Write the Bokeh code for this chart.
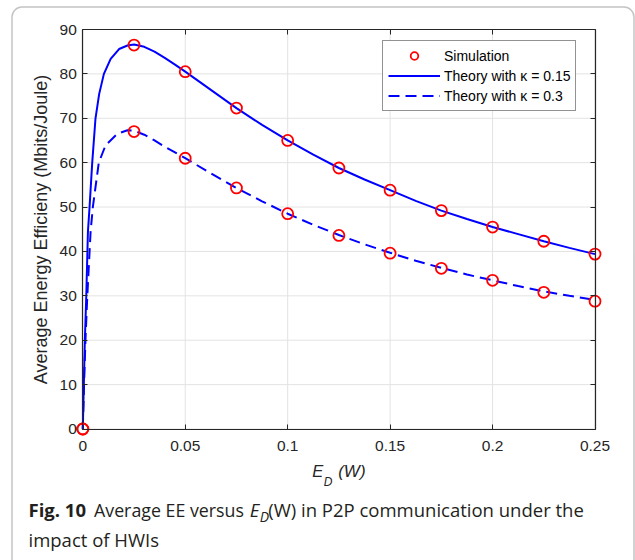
from bokeh.plotting import figure
from bokeh.models import (Range1d, FixedTicker, LinearAxis, CustomJSTickFormatter,
                          Label, BoxAnnotation, Legend, LegendItem)
from bokeh.embed import file_html
from bokeh.resources import INLINE

# ---------------- data ----------------
sim_x = [0, 0.025, 0.05, 0.075, 0.1, 0.125, 0.15, 0.175, 0.2, 0.225, 0.25]
sim_k015 = [0, 86.5, 80.5, 72.3, 65.0, 58.8, 53.8, 49.2, 45.5, 42.3, 39.4]
sim_k03 = [0, 67.0, 61.0, 54.3, 48.5, 43.6, 39.6, 36.2, 33.5, 30.8, 28.8]

th_x_k015 = [0, 0.0005, 0.001, 0.0017, 0.0025, 0.0033, 0.0046, 0.0062, 0.008, 0.0103,
             0.0136, 0.0177, 0.0218, 0.025, 0.03, 0.035, 0.04, 0.045, 0.05, 0.0625,
             0.075, 0.0875, 0.1, 0.1125, 0.125, 0.1375, 0.15, 0.1625, 0.175, 0.1875,
             0.2, 0.2125, 0.225, 0.2375, 0.25]
th_k015 = [0, 10, 20, 30, 44.4, 50, 60, 70, 75.5, 80,
           83.4, 85.6, 86.4, 86.6, 86.1, 85.0, 83.6, 82.1, 80.5, 76.4,
           72.3, 68.5, 65.0, 61.8, 58.8, 56.2, 53.8, 51.4, 49.2, 47.3,
           45.5, 43.9, 42.3, 40.8, 39.4]

th_x_k03 = [0, 0.0006, 0.0013, 0.0022, 0.0038, 0.0049, 0.0078, 0.0111, 0.0168, 0.0218,
            0.025, 0.03, 0.035, 0.04, 0.045, 0.05, 0.0625, 0.075, 0.0875, 0.1,
            0.1125, 0.125, 0.1375, 0.15, 0.1625, 0.175, 0.1875, 0.2, 0.2125, 0.225,
            0.2375, 0.25]
th_k03 = [0, 10, 20, 30, 44.4, 50, 60, 63.9, 66.5, 67.3,
          67.2, 66.3, 65.0, 63.6, 62.3, 61.0, 57.6, 54.3, 51.3, 48.5,
          46.0, 43.7, 41.6, 39.7, 37.9, 36.3, 34.8, 33.5, 32.2, 31.0,
          30.0, 29.1]

x_ticks = [0, 0.05, 0.1, 0.15, 0.2, 0.25]
x_tick_labels = ["0", "0.05", "0.1", "0.15", "0.2", "0.25"]
y_ticks = [0, 10, 20, 30, 40, 50, 60, 70, 80, 90]

legend_labels = ["Simulation", "Theory with \u03ba = 0.15", "Theory with \u03ba = 0.3"]
y_label = "Average Energy Efficieny (Mbits/Joule)"

# ---------------- layout helpers ----------------
W, H = 635, 560
# pixel position of the axes box inside the page
FL, FR, FT, FB = 82.3, 594.5, 29.0, 428.5
X0, X1, Y0, Y1 = 0.0, 0.25, 0.0, 90.0


def dx(px):
    return X0 + (px - FL) / (FR - FL) * (X1 - X0)


def dy(py):
    return Y0 + (FB - py) / (FB - FT) * (Y1 - Y0)


AX = "#262626"
FONT = "Liberation Sans"
CAP_FONT = "Open Sans"

# the frame covers the whole page; the axes are pinned at the box edges
p = figure(width=W, height=H, output_backend="svg", toolbar_location=None,
           x_range=Range1d(dx(0), dx(W)), y_range=Range1d(dy(H), dy(0)),
           min_border=0, min_border_left=0, min_border_right=0,
           min_border_top=0, min_border_bottom=0)
p.background_fill_color = "white"
p.border_fill_color = "white"
p.outline_line_color = None
p.xgrid.visible = False
p.ygrid.visible = False

xa, ya = p.xaxis[0], p.yaxis[0]
xa.fixed_location = Y0
xa.bounds = (X0, X1)
ya.fixed_location = X0
ya.bounds = (Y0, Y1)
for ax in (xa, ya):
    ax.axis_line_color = AX
    ax.axis_line_width = 1.2
    ax.major_tick_line_color = AX
    ax.major_tick_in = 5
    ax.major_tick_out = 0
    ax.minor_tick_line_color = None
    ax.major_label_text_color = AX
    ax.major_label_text_font = FONT
    ax.major_label_text_font_size = "15.5px"

xa.ticker = FixedTicker(ticks=x_ticks)
xa.major_label_overrides = dict(zip(x_ticks, x_tick_labels))
xa.major_label_standoff = 12
ya.ticker = FixedTicker(ticks=y_ticks)
ya.major_label_standoff = 6
ya.axis_label = y_label
ya.axis_label_text_font = FONT
ya.axis_label_text_font_style = "normal"
ya.axis_label_text_font_size = "18px"
ya.axis_label_text_color = AX
ya.axis_label_standoff = 5

blank = CustomJSTickFormatter(code="return ''")
top = LinearAxis(ticker=FixedTicker(ticks=x_ticks), formatter=blank,
                 fixed_location=Y1, bounds=(X0, X1),
                 major_tick_in=5, major_tick_out=0, minor_tick_line_color=None,
                 axis_line_color=AX, axis_line_width=1.2, major_tick_line_color=AX)
right = LinearAxis(ticker=FixedTicker(ticks=y_ticks), formatter=blank,
                   fixed_location=X1, bounds=(Y0, Y1),
                   major_tick_in=5, major_tick_out=0, minor_tick_line_color=None,
                   axis_line_color=AX, axis_line_width=1.2, major_tick_line_color=AX)
p.add_layout(top, "above")
p.add_layout(right, "right")

# grid lines inside the axes box, one per tick
GRID = "#e3e3e3"
p.segment(x0=x_ticks, y0=[Y0] * len(x_ticks), x1=x_ticks, y1=[Y1] * len(x_ticks),
          line_color=GRID, line_width=1, level="underlay")
p.segment(x0=[X0] * len(y_ticks), y0=y_ticks, x1=[X1] * len(y_ticks), y1=y_ticks,
          line_color=GRID, line_width=1, level="underlay")

# curves
r1 = p.line(th_x_k015, th_k015, line_color="#0000ff", line_width=2)
r2 = p.line(th_x_k03, th_k03, line_color="#0000ff", line_width=2, line_dash="11 6")
s1 = p.scatter(sim_x, sim_k015, marker="circle", size=11, fill_color=None,
               line_color="#ff0000", line_width=1.8)
s2 = p.scatter(sim_x, sim_k03, marker="circle", size=11, fill_color=None,
               line_color="#ff0000", line_width=1.8)

legend = Legend(items=[LegendItem(label=legend_labels[0], renderers=[s1]),
                       LegendItem(label=legend_labels[1], renderers=[r1]),
                       LegendItem(label=legend_labels[2], renderers=[r2])],
                location=(382, H - 111))
legend.label_text_font = FONT
legend.label_text_font_size = "14px"
legend.label_text_color = "black"
legend.border_line_color = AX
legend.border_line_width = 1
legend.background_fill_color = "white"
legend.background_fill_alpha = 1
legend.padding = 5
legend.spacing = 1
legend.label_height = 19
legend.glyph_height = 19
legend.glyph_width = 52
legend.label_standoff = 4
legend.margin = 0
p.add_layout(legend, "center")


def lab(text, px, py, size, style="normal", font=FONT, color=AX):
    # py is the wanted baseline; Label draws about 0.37 em lower, so lift it
    p.add_layout(Label(x=dx(px), y=dy(py - 0.37 * size), text=text, text_font=font,
                       text_font_size="%gpx" % size, text_font_style=style,
                       text_color=color, text_align="left",
                       text_baseline="alphabetic"))


# x-axis label  E_D (W)
lab("E", 311.7, 476.7, 16.5, "italic")
lab("D", 323.3, 485.7, 12, "italic")
lab("(W)", 337.7, 477, 17, "italic")

# caption
CC = "#231f20"
lab("Fig. 10", 28, 516, 18.5, "bold", CAP_FONT, CC)
lab("Average EE versus", 93.5, 516, 17.8, "normal", CAP_FONT, CC)
lab("E", 249.3, 516, 18.5, "italic", CAP_FONT, CC)
lab("D", 259.3, 521.5, 14, "italic", CAP_FONT, CC)
lab("(W) in P2P communication under the", 267.7, 516, 18.5, "normal", CAP_FONT, CC)
lab("impact of HWIs", 28, 546, 18.5, "normal", CAP_FONT, CC)

# rounded outer border (open at the bottom of the page)
p.add_layout(BoxAnnotation(left=dx(11.5), right=dx(633.5), top=dy(6.5), bottom=dy(700),
                           fill_color=None, fill_alpha=0, line_color="#3a3a3a",
                           line_width=1.5, border_radius=10))

open("out.html", "w").write(file_html(p, INLINE))
